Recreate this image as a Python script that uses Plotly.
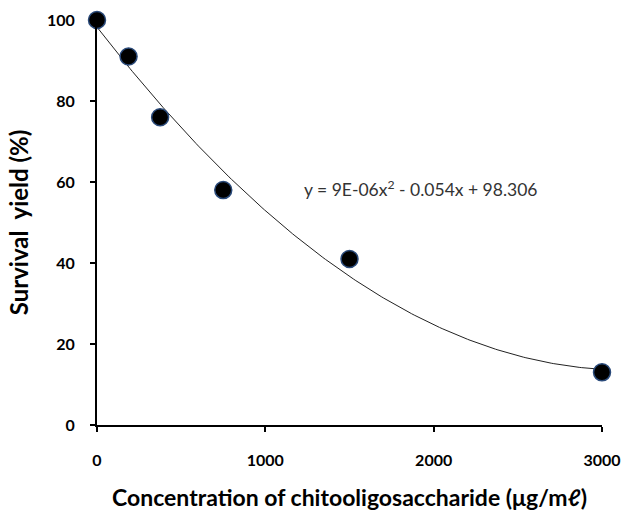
import numpy as np
import plotly.graph_objects as go

conc = [0, 187.5, 375, 750, 1500, 3000]
survival = [100, 91, 76, 58, 41, 13]
x_ticks = [0, 1000, 2000, 3000]
y_ticks = [0, 20, 40, 60, 80, 100]
equation = "y = 9E-06x<sup>2</sup> - 0.054x + 98.306"

coef = np.polyfit(conc, survival, 2)
xs = np.linspace(0, 3000, 200)
ys = np.polyval(coef, xs)

FONT = "Lato, Open Sans, sans-serif"

fig = go.Figure()
fig.add_trace(go.Scatter(x=xs, y=ys, mode="lines",
                         line=dict(color="#222222", width=1), hoverinfo="skip"))
fig.add_trace(go.Scatter(x=conc, y=survival, mode="markers",
                         marker=dict(color="black", size=17,
                                     line=dict(color="#2a4a7a", width=1.5)),
                         cliponaxis=False))

fig.add_annotation(x=1218, y=58.5, text=equation, showarrow=False,
                   xanchor="left", yanchor="middle",
                   font=dict(family=FONT, size=17.5, color="#333333"))

fig.update_layout(
    width=623, height=514,
    margin=dict(l=97, r=21, t=20, b=89, autoexpand=False),
    paper_bgcolor="white", plot_bgcolor="white",
    showlegend=False,
    font=dict(family=FONT, color="black"),
)
fig.update_xaxes(range=[0, 3000], tickvals=x_ticks, showgrid=False, zeroline=False,
                 automargin=False,
                 showline=True, linecolor="black", linewidth=2,
                 ticks="outside", tickcolor="black", tickwidth=2, ticklen=5,
                 ticklabelstandoff=15,
                 tickfont=dict(size=16, family=FONT, weight="bold"),
                 title=dict(text="Concentration of chitooligosaccharide (μg/mℓ)",
                            font=dict(size=23, family=FONT, weight="bold"),
                            standoff=22))
fig.update_yaxes(range=[0, 100], tickvals=y_ticks, showgrid=False, zeroline=False,
                 automargin=False,
                 showline=True, linecolor="black", linewidth=2,
                 ticks="outside", tickcolor="black", tickwidth=2, ticklen=5,
                 ticklabelstandoff=12,
                 tickfont=dict(size=16, family=FONT, weight="bold"),
                 title=dict(text="Survival\u00a0 yield (%)",
                            font=dict(size=24, family=FONT, weight="bold"),
                            standoff=12))

fig.write_html("out.html", config={"displayModeBar": False},
               post_script="document.body.style.margin='0';")
